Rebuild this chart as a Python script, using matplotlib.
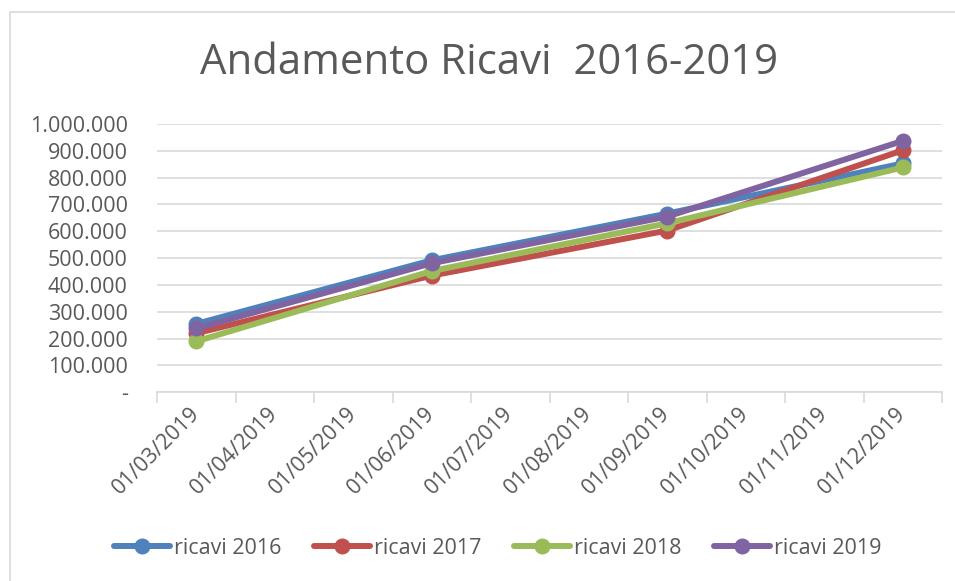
import matplotlib
matplotlib.use("Agg")
import matplotlib.pyplot as plt
from matplotlib.patches import Rectangle
from matplotlib.ticker import FuncFormatter, FixedLocator

# ---- data ----
categories = ['01/03/2019', '01/04/2019', '01/05/2019', '01/06/2019', '01/07/2019',
              '01/08/2019', '01/09/2019', '01/10/2019', '01/11/2019', '01/12/2019']
data_dates = ['01/03/2019', '01/06/2019', '01/09/2019', '01/12/2019']
series_names = ['ricavi 2016', 'ricavi 2017', 'ricavi 2018', 'ricavi 2019']
ricavi_2016 = [255000, 492000, 666000, 853000]
ricavi_2017 = [220000, 435000, 603000, 902000]
ricavi_2018 = [190000, 452000, 630000, 838000]
ricavi_2019 = [238000, 481000, 655000, 937000]
title = 'Andamento Ricavi  2016-2019'

colors = ['#4F81BD', '#C0504D', '#9BBB59', '#8064A2']
text_color = '#595959'
grid_color = '#D9D9D9'

plt.rcParams['font.family'] = ['Open Sans', 'DejaVu Sans']

W, H = 955, 581
fig = plt.figure(figsize=(W / 100, H / 100), dpi=100)

# chart frame (left/top visible)
fig.patches.append(Rectangle((10 / W, -0.1), 1.2, 1 - 12 / H + 0.1,
                             transform=fig.transFigure, fill=False,
                             edgecolor='#D9D9D9', linewidth=1.2))

ax = fig.add_axes([157 / W, 1 - 392.3 / H, (942 - 157) / W, (392.3 - 124) / H])

xpos = [categories.index(d) for d in data_dates]
for name, vals, c in zip(series_names, [ricavi_2016, ricavi_2017, ricavi_2018, ricavi_2019], colors):
    ax.plot(xpos, vals, color=c, linewidth=4.3, marker='o', markersize=10.5,
            label=name, solid_capstyle='round', solid_joinstyle='round')

ax.set_xlim(-0.5, len(categories) - 0.5)
ax.set_ylim(0, 1000000)

# y axis
ax.set_yticks(range(0, 1000001, 100000))
ax.yaxis.set_major_formatter(FuncFormatter(
    lambda v, p: '-' if v == 0 else f'{int(v):,}'.replace(',', '.')))
ax.tick_params(axis='y', length=0, pad=21, labelsize=15.5, labelcolor=text_color)
ax.grid(axis='y', color=grid_color, linewidth=1.2)
ax.set_axisbelow(True)

# x axis: tick marks at boundaries, labels at centers
ax.xaxis.set_major_locator(FixedLocator([i - 0.5 for i in range(len(categories) + 1)]))
ax.xaxis.set_minor_locator(FixedLocator(list(range(len(categories)))))
ax.xaxis.set_major_formatter(FuncFormatter(lambda v, p: ''))
ax.set_xticklabels(categories, minor=True)
ax.tick_params(axis='x', which='major', length=8, width=1.2, color=grid_color, direction='out')
ax.tick_params(axis='x', which='minor', length=0, pad=13, labelsize=15.5, labelcolor=text_color)
for lbl in ax.get_xticklabels(minor=True):
    lbl.set_rotation(45)
    lbl.set_ha('right')
    lbl.set_va('center')
    lbl.set_rotation_mode('anchor')

for s in ['top', 'right', 'left']:
    ax.spines[s].set_visible(False)
ax.spines['bottom'].set_color(grid_color)
ax.spines['bottom'].set_linewidth(1.2)

fig.text(489 / W, 1 - 63 / H, title, ha='center', va='center',
         fontsize=30.2, color=text_color)

leg = fig.legend(loc='center', bbox_to_anchor=(498 / W, 1 - 548 / H), ncol=4,
                 frameon=False, fontsize=15.5, handlelength=2.6, handletextpad=0.2,
                 columnspacing=1.5, labelcolor=text_color)

fig.savefig('out.png', dpi=100)
